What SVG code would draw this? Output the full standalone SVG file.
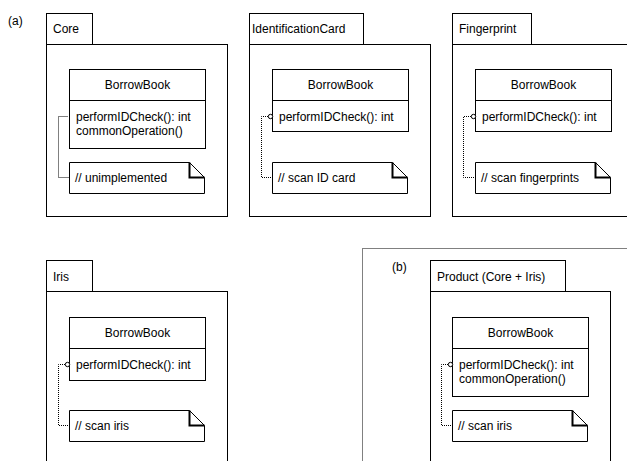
<svg xmlns="http://www.w3.org/2000/svg" width="627" height="461" viewBox="0 0 627 461">
<style>
  .ln{fill:#fff;stroke:#000;stroke-width:1}
  .fold{fill:none;stroke:#000;stroke-width:2}
  .t{font-family:"Liberation Sans",Arial,sans-serif;font-size:12px;fill:#000}
  .c{text-anchor:middle}
  .con{fill:none;stroke:#000;stroke-width:1;stroke-dasharray:1 1}
  .frame{fill:none;stroke:#000;stroke-width:1;stroke-dasharray:1 1}
  .dot{fill:#fff;stroke:#000;stroke-width:1}
</style>
<rect x="0" y="0" width="627" height="461" fill="#fff"/>
<text class="t" x="8" y="24.5">(a)</text>

<g id="core">
  <rect class="ln" x="46.5" y="13.5" width="46" height="31"/>
  <rect class="ln" x="46.5" y="44.5" width="181" height="172"/>
  <text class="t" x="53" y="33">Core</text>
  <rect class="ln" x="69.5" y="69.5" width="136" height="31"/>
  <rect class="ln" x="69.5" y="100.5" width="136" height="48"/>
  <text class="t c" x="137.5" y="89">BorrowBook</text>
  <text class="t" x="76" y="121">performIDCheck(): int</text>
  <text class="t" x="76" y="135">commonOperation()</text>
  <path class="ln" d="M69.5,162.5 H189.5 L204.5,177.5 V193.5 H69.5 Z"/>
  <path class="fold" d="M189.5,162.5 V177.5 H204.5"/>
  <text class="t" x="75" y="182">// unimplemented</text>
</g>

<g id="identificationcard">
  <rect class="ln" x="249.5" y="13.5" width="114" height="31"/>
  <rect class="ln" x="249.5" y="44.5" width="181" height="172"/>
  <text class="t" x="252" y="33">IdentificationCard</text>
  <rect class="ln" x="272.5" y="69.5" width="136" height="31"/>
  <rect class="ln" x="272.5" y="100.5" width="136" height="31"/>
  <text class="t c" x="340.5" y="89">BorrowBook</text>
  <text class="t" x="279" y="121">performIDCheck(): int</text>
  <path class="ln" d="M272.5,162.5 H392.5 L407.5,177.5 V193.5 H272.5 Z"/>
  <path class="fold" d="M392.5,162.5 V177.5 H407.5"/>
  <text class="t" x="278" y="182">// scan ID card</text>
</g>

<g id="fingerprint">
  <rect class="ln" x="452.5" y="13.5" width="79" height="31"/>
  <rect class="ln" x="452.5" y="44.5" width="181" height="172"/>
  <text class="t" x="459" y="33">Fingerprint</text>
  <rect class="ln" x="475.5" y="69.5" width="136" height="31"/>
  <rect class="ln" x="475.5" y="100.5" width="136" height="31"/>
  <text class="t c" x="543.5" y="89">BorrowBook</text>
  <text class="t" x="482" y="121">performIDCheck(): int</text>
  <path class="ln" d="M475.5,162.5 H595.5 L610.5,177.5 V193.5 H475.5 Z"/>
  <path class="fold" d="M595.5,162.5 V177.5 H610.5"/>
  <text class="t" x="481" y="182">// scan fingerprints</text>
</g>

<g id="iris">
  <rect class="ln" x="46.5" y="260.5" width="46" height="31"/>
  <rect class="ln" x="46.5" y="291.5" width="181" height="200"/>
  <text class="t" x="53" y="281">Iris</text>
  <rect class="ln" x="69.5" y="317.5" width="136" height="31"/>
  <rect class="ln" x="69.5" y="348.5" width="136" height="32"/>
  <text class="t c" x="137.5" y="337">BorrowBook</text>
  <text class="t" x="76" y="369">performIDCheck(): int</text>
  <path class="ln" d="M69.5,410.5 H189.5 L204.5,425.5 V441.5 H69.5 Z"/>
  <path class="fold" d="M189.5,410.5 V425.5 H204.5"/>
  <text class="t" x="75" y="430">// scan iris</text>
</g>

<g id="product-frame">
  <rect class="frame" x="362.5" y="248.5" width="300" height="300"/>
  <text class="t" x="392" y="271">(b)</text>
</g>

<g id="product">
  <rect class="ln" x="430.5" y="260.5" width="135" height="31"/>
  <rect class="ln" x="430.5" y="291.5" width="180" height="200"/>
  <text class="t" x="437" y="281">Product (Core + Iris)</text>
  <rect class="ln" x="452.5" y="317.5" width="136" height="31"/>
  <rect class="ln" x="452.5" y="348.5" width="136" height="48"/>
  <text class="t c" x="520.5" y="337">BorrowBook</text>
  <text class="t" x="459" y="369">performIDCheck(): int</text>
  <text class="t" x="459" y="383">commonOperation()</text>
  <path class="ln" d="M452.5,410.5 H572.5 L587.5,425.5 V441.5 H452.5 Z"/>
  <path class="fold" d="M572.5,410.5 V425.5 H587.5"/>
  <text class="t" x="458" y="430">// scan iris</text>
</g>

<g id="connectors">
  <path class="con" d="M67.5,116.5 H58.5 V177.5 H69"/>
  <path class="con" d="M268,116.5 H261.5 V177.5 H272"/>
  <circle class="dot" cx="270.5" cy="116.5" r="2.2"/>
  <path class="con" d="M471,116.5 H463.5 V177.5 H475"/>
  <circle class="dot" cx="473.5" cy="116.5" r="2.2"/>
  <path class="con" d="M65,364.5 H58.5 V425.5 H69"/>
  <circle class="dot" cx="67.5" cy="364.5" r="2.2"/>
  <path class="con" d="M448,364.5 H441.5 V425.5 H452"/>
  <circle class="dot" cx="450.5" cy="364.5" r="2.2"/>
</g>
</svg>
